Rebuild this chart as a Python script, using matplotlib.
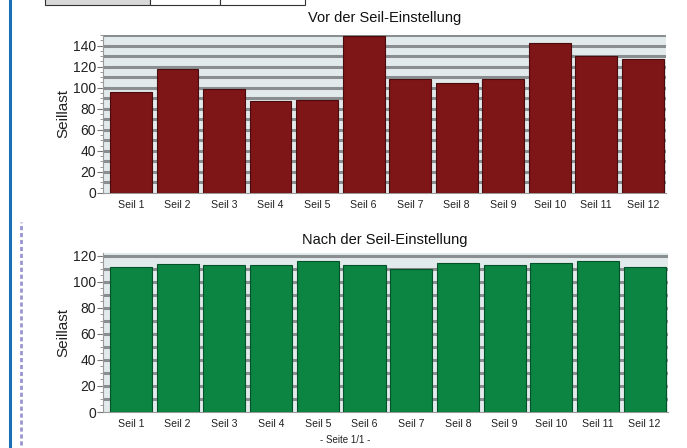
import matplotlib
matplotlib.use("Agg")
import matplotlib.pyplot as plt
from matplotlib.patches import Rectangle
from matplotlib.lines import Line2D
import numpy as np

categories = ["Seil 1", "Seil 2", "Seil 3", "Seil 4", "Seil 5", "Seil 6",
              "Seil 7", "Seil 8", "Seil 9", "Seil 10", "Seil 11", "Seil 12"]
vor_values = [96, 118, 99, 87, 88, 149, 108, 104, 108, 142, 130, 127]
nach_values = [111, 113.5, 113, 113, 115.5, 113, 109.5, 114, 112.5, 114, 115.5, 111]
title_vor = "Vor der Seil-Einstellung"
title_nach = "Nach der Seil-Einstellung"
ylabel = "Seillast"
footer = "- Seite 1/1 -"

plt.rcParams['font.family'] = ['Liberation Sans', 'DejaVu Sans']

fig = plt.figure(figsize=(6.87, 4.48), dpi=100)

def fx(px):
    return px / 687.0

def fy(py):
    return 1 - py / 448.0

# page decorations: blue left border, side strip, top table fragment
fig.add_artist(Line2D([fx(10), fx(10)], [0, 1], color="#1a6fb5", lw=2.2, transform=fig.transFigure))
fig.add_artist(Line2D([fx(21), fx(21)], [fy(445), fy(222)], color="#7f7cc4", lw=2.0,
                      ls=(0, (1.5, 1)), alpha=0.8, transform=fig.transFigure))
fig.add_artist(Rectangle((fx(45), fy(5)), fx(105), fy(0) - fy(5) + 0.01, facecolor="#d8d8d8",
                         edgecolor="#333333", lw=0.8, transform=fig.transFigure))
fig.add_artist(Rectangle((fx(150), fy(5)), fx(70), fy(0) - fy(5) + 0.01, facecolor="white",
                         edgecolor="#333333", lw=0.8, transform=fig.transFigure))
fig.add_artist(Rectangle((fx(220), fy(5)), fx(85), fy(0) - fy(5) + 0.01, facecolor="white",
                         edgecolor="#333333", lw=0.8, transform=fig.transFigure))


def draw_panel(rect, values, ymax, major, color, edge, title, title_y):
    ax = fig.add_axes(rect)
    x = np.arange(len(categories))
    ax.set_facecolor("#e3eaec")
    ax.set_ylim(0, ymax)
    ax.set_xlim(-0.6, 11.5)
    for g in np.arange(10, ymax + 0.1, 10):
        ax.axhline(g, color="#8a8e90", lw=2.2, zorder=1)
    ax.bar(x, values, width=0.9, color=color, edgecolor=edge, linewidth=0.8, zorder=3)
    ax.set_xticks(x)
    ax.set_xticklabels(categories, fontsize=7.6, color="#222222")
    ax.tick_params(axis="x", length=0, pad=5)
    ax.set_yticks(major)
    ax.set_yticklabels([str(v) for v in major], fontsize=10, color="#222222")
    ax.set_yticks(np.arange(0, ymax + 0.1, 5), minor=True)
    ax.tick_params(axis="y", which="major", length=4, color="#777777", pad=1)
    ax.tick_params(axis="y", which="minor", length=2.5, color="#888888")
    ax.set_ylabel(ylabel, fontsize=11, color="#222222", labelpad=2)
    for s in ["top", "right"]:
        ax.spines[s].set_visible(False)
    ax.spines["left"].set_color("#9a9a9a")
    ax.spines["bottom"].set_color("#9a9a9a")
    fig.text(fx(385), fy(title_y), title, ha="center", va="center", fontsize=10.5, color="#111111")
    return ax

draw_panel([fx(103), fy(193), fx(563), fy(35) - fy(193)], vor_values, 150,
           [0, 20, 40, 60, 80, 100, 120, 140], "#7e1517", "#4a0b0c", title_vor, 18)
draw_panel([fx(103), fy(412), fx(565), fy(253) - fy(412)], nach_values, 122,
           [0, 20, 40, 60, 80, 100, 120], "#0b8541", "#05512a", title_nach, 240)

fig.text(fx(345), fy(440), footer, ha="center", va="center", fontsize=7, color="#222222")

fig.savefig("out.png", dpi=100, facecolor="white")
